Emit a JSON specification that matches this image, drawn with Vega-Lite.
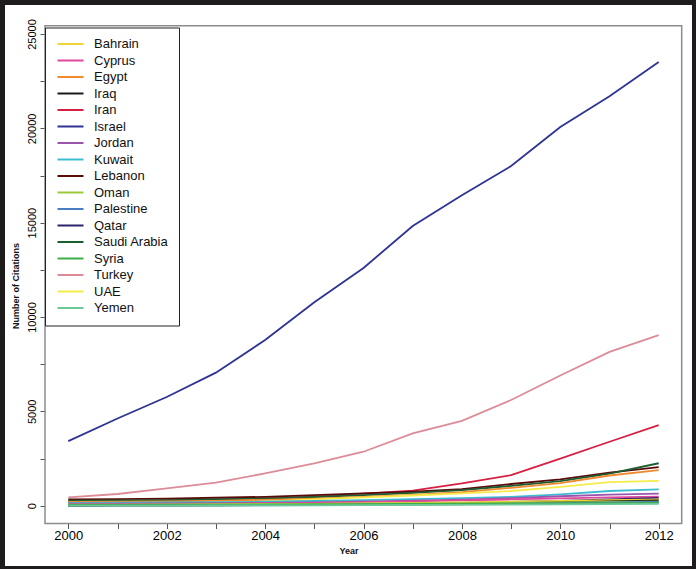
{
  "$schema": "https://vega.github.io/schema/vega-lite/v6.json",
  "width": 687,
  "height": 561,
  "autosize": {"type": "none"},
  "padding": {"left": 5, "top": 5, "right": 4, "bottom": 3},
  "background": "#1e1c1d",
  "config": {
    "view": {"fill": "white", "stroke": null},
    "font": "Liberation Sans"
  },
  "datasets": {
    "citations": [
      {"Country":"Israel","Year":2000,"Citations":3420},{"Country":"Israel","Year":2001,"Citations":4620},{"Country":"Israel","Year":2002,"Citations":5760},{"Country":"Israel","Year":2003,"Citations":7050},{"Country":"Israel","Year":2004,"Citations":8780},{"Country":"Israel","Year":2005,"Citations":10780},{"Country":"Israel","Year":2006,"Citations":12600},{"Country":"Israel","Year":2007,"Citations":14820},{"Country":"Israel","Year":2008,"Citations":16450},{"Country":"Israel","Year":2009,"Citations":18000},{"Country":"Israel","Year":2010,"Citations":20070},{"Country":"Israel","Year":2011,"Citations":21700},{"Country":"Israel","Year":2012,"Citations":23520},
      {"Country":"Turkey","Year":2000,"Citations":440},{"Country":"Turkey","Year":2001,"Citations":620},{"Country":"Turkey","Year":2002,"Citations":920},{"Country":"Turkey","Year":2003,"Citations":1220},{"Country":"Turkey","Year":2004,"Citations":1710},{"Country":"Turkey","Year":2005,"Citations":2240},{"Country":"Turkey","Year":2006,"Citations":2860},{"Country":"Turkey","Year":2007,"Citations":3830},{"Country":"Turkey","Year":2008,"Citations":4500},{"Country":"Turkey","Year":2009,"Citations":5600},{"Country":"Turkey","Year":2010,"Citations":6900},{"Country":"Turkey","Year":2011,"Citations":8150},{"Country":"Turkey","Year":2012,"Citations":9040},
      {"Country":"Iran","Year":2000,"Citations":220},{"Country":"Iran","Year":2001,"Citations":250},{"Country":"Iran","Year":2002,"Citations":290},{"Country":"Iran","Year":2003,"Citations":340},{"Country":"Iran","Year":2004,"Citations":400},{"Country":"Iran","Year":2005,"Citations":480},{"Country":"Iran","Year":2006,"Citations":640},{"Country":"Iran","Year":2007,"Citations":800},{"Country":"Iran","Year":2008,"Citations":1180},{"Country":"Iran","Year":2009,"Citations":1620},{"Country":"Iran","Year":2010,"Citations":2500},{"Country":"Iran","Year":2011,"Citations":3390},{"Country":"Iran","Year":2012,"Citations":4270},
      {"Country":"Lebanon","Year":2000,"Citations":340},{"Country":"Lebanon","Year":2001,"Citations":350},{"Country":"Lebanon","Year":2002,"Citations":370},{"Country":"Lebanon","Year":2003,"Citations":420},{"Country":"Lebanon","Year":2004,"Citations":470},{"Country":"Lebanon","Year":2005,"Citations":560},{"Country":"Lebanon","Year":2006,"Citations":650},{"Country":"Lebanon","Year":2007,"Citations":740},{"Country":"Lebanon","Year":2008,"Citations":880},{"Country":"Lebanon","Year":2009,"Citations":1150},{"Country":"Lebanon","Year":2010,"Citations":1400},{"Country":"Lebanon","Year":2011,"Citations":1750},{"Country":"Lebanon","Year":2012,"Citations":2040},
      {"Country":"Saudi Arabia","Year":2000,"Citations":270},{"Country":"Saudi Arabia","Year":2001,"Citations":280},{"Country":"Saudi Arabia","Year":2002,"Citations":300},{"Country":"Saudi Arabia","Year":2003,"Citations":330},{"Country":"Saudi Arabia","Year":2004,"Citations":380},{"Country":"Saudi Arabia","Year":2005,"Citations":460},{"Country":"Saudi Arabia","Year":2006,"Citations":560},{"Country":"Saudi Arabia","Year":2007,"Citations":680},{"Country":"Saudi Arabia","Year":2008,"Citations":820},{"Country":"Saudi Arabia","Year":2009,"Citations":1050},{"Country":"Saudi Arabia","Year":2010,"Citations":1300},{"Country":"Saudi Arabia","Year":2011,"Citations":1700},{"Country":"Saudi Arabia","Year":2012,"Citations":2250},
      {"Country":"Egypt","Year":2000,"Citations":200},{"Country":"Egypt","Year":2001,"Citations":210},{"Country":"Egypt","Year":2002,"Citations":230},{"Country":"Egypt","Year":2003,"Citations":260},{"Country":"Egypt","Year":2004,"Citations":310},{"Country":"Egypt","Year":2005,"Citations":380},{"Country":"Egypt","Year":2006,"Citations":470},{"Country":"Egypt","Year":2007,"Citations":570},{"Country":"Egypt","Year":2008,"Citations":720},{"Country":"Egypt","Year":2009,"Citations":950},{"Country":"Egypt","Year":2010,"Citations":1200},{"Country":"Egypt","Year":2011,"Citations":1600},{"Country":"Egypt","Year":2012,"Citations":1890},
      {"Country":"UAE","Year":2000,"Citations":90},{"Country":"UAE","Year":2001,"Citations":100},{"Country":"UAE","Year":2002,"Citations":120},{"Country":"UAE","Year":2003,"Citations":160},{"Country":"UAE","Year":2004,"Citations":220},{"Country":"UAE","Year":2005,"Citations":330},{"Country":"UAE","Year":2006,"Citations":440},{"Country":"UAE","Year":2007,"Citations":540},{"Country":"UAE","Year":2008,"Citations":650},{"Country":"UAE","Year":2009,"Citations":780},{"Country":"UAE","Year":2010,"Citations":1000},{"Country":"UAE","Year":2011,"Citations":1250},{"Country":"UAE","Year":2012,"Citations":1320},
      {"Country":"Kuwait","Year":2000,"Citations":150},{"Country":"Kuwait","Year":2001,"Citations":160},{"Country":"Kuwait","Year":2002,"Citations":170},{"Country":"Kuwait","Year":2003,"Citations":190},{"Country":"Kuwait","Year":2004,"Citations":210},{"Country":"Kuwait","Year":2005,"Citations":250},{"Country":"Kuwait","Year":2006,"Citations":300},{"Country":"Kuwait","Year":2007,"Citations":350},{"Country":"Kuwait","Year":2008,"Citations":400},{"Country":"Kuwait","Year":2009,"Citations":470},{"Country":"Kuwait","Year":2010,"Citations":600},{"Country":"Kuwait","Year":2011,"Citations":780},{"Country":"Kuwait","Year":2012,"Citations":860},
      {"Country":"Jordan","Year":2000,"Citations":110},{"Country":"Jordan","Year":2001,"Citations":115},{"Country":"Jordan","Year":2002,"Citations":120},{"Country":"Jordan","Year":2003,"Citations":135},{"Country":"Jordan","Year":2004,"Citations":150},{"Country":"Jordan","Year":2005,"Citations":180},{"Country":"Jordan","Year":2006,"Citations":220},{"Country":"Jordan","Year":2007,"Citations":270},{"Country":"Jordan","Year":2008,"Citations":320},{"Country":"Jordan","Year":2009,"Citations":400},{"Country":"Jordan","Year":2010,"Citations":500},{"Country":"Jordan","Year":2011,"Citations":590},{"Country":"Jordan","Year":2012,"Citations":640},
      {"Country":"Cyprus","Year":2000,"Citations":60},{"Country":"Cyprus","Year":2001,"Citations":70},{"Country":"Cyprus","Year":2002,"Citations":80},{"Country":"Cyprus","Year":2003,"Citations":100},{"Country":"Cyprus","Year":2004,"Citations":120},{"Country":"Cyprus","Year":2005,"Citations":150},{"Country":"Cyprus","Year":2006,"Citations":190},{"Country":"Cyprus","Year":2007,"Citations":230},{"Country":"Cyprus","Year":2008,"Citations":280},{"Country":"Cyprus","Year":2009,"Citations":330},{"Country":"Cyprus","Year":2010,"Citations":390},{"Country":"Cyprus","Year":2011,"Citations":440},{"Country":"Cyprus","Year":2012,"Citations":480},
      {"Country":"Qatar","Year":2000,"Citations":10},{"Country":"Qatar","Year":2001,"Citations":15},{"Country":"Qatar","Year":2002,"Citations":20},{"Country":"Qatar","Year":2003,"Citations":30},{"Country":"Qatar","Year":2004,"Citations":40},{"Country":"Qatar","Year":2005,"Citations":60},{"Country":"Qatar","Year":2006,"Citations":80},{"Country":"Qatar","Year":2007,"Citations":110},{"Country":"Qatar","Year":2008,"Citations":150},{"Country":"Qatar","Year":2009,"Citations":200},{"Country":"Qatar","Year":2010,"Citations":260},{"Country":"Qatar","Year":2011,"Citations":340},{"Country":"Qatar","Year":2012,"Citations":410},
      {"Country":"Bahrain","Year":2000,"Citations":40},{"Country":"Bahrain","Year":2001,"Citations":45},{"Country":"Bahrain","Year":2002,"Citations":55},{"Country":"Bahrain","Year":2003,"Citations":65},{"Country":"Bahrain","Year":2004,"Citations":80},{"Country":"Bahrain","Year":2005,"Citations":100},{"Country":"Bahrain","Year":2006,"Citations":120},{"Country":"Bahrain","Year":2007,"Citations":150},{"Country":"Bahrain","Year":2008,"Citations":180},{"Country":"Bahrain","Year":2009,"Citations":210},{"Country":"Bahrain","Year":2010,"Citations":250},{"Country":"Bahrain","Year":2011,"Citations":290},{"Country":"Bahrain","Year":2012,"Citations":330},
      {"Country":"Iraq","Year":2000,"Citations":10},{"Country":"Iraq","Year":2001,"Citations":12},{"Country":"Iraq","Year":2002,"Citations":15},{"Country":"Iraq","Year":2003,"Citations":20},{"Country":"Iraq","Year":2004,"Citations":30},{"Country":"Iraq","Year":2005,"Citations":45},{"Country":"Iraq","Year":2006,"Citations":60},{"Country":"Iraq","Year":2007,"Citations":80},{"Country":"Iraq","Year":2008,"Citations":110},{"Country":"Iraq","Year":2009,"Citations":140},{"Country":"Iraq","Year":2010,"Citations":180},{"Country":"Iraq","Year":2011,"Citations":230},{"Country":"Iraq","Year":2012,"Citations":280},
      {"Country":"Oman","Year":2000,"Citations":50},{"Country":"Oman","Year":2001,"Citations":55},{"Country":"Oman","Year":2002,"Citations":60},{"Country":"Oman","Year":2003,"Citations":70},{"Country":"Oman","Year":2004,"Citations":80},{"Country":"Oman","Year":2005,"Citations":95},{"Country":"Oman","Year":2006,"Citations":110},{"Country":"Oman","Year":2007,"Citations":120},{"Country":"Oman","Year":2008,"Citations":140},{"Country":"Oman","Year":2009,"Citations":160},{"Country":"Oman","Year":2010,"Citations":180},{"Country":"Oman","Year":2011,"Citations":200},{"Country":"Oman","Year":2012,"Citations":220},
      {"Country":"Palestine","Year":2000,"Citations":10},{"Country":"Palestine","Year":2001,"Citations":12},{"Country":"Palestine","Year":2002,"Citations":15},{"Country":"Palestine","Year":2003,"Citations":20},{"Country":"Palestine","Year":2004,"Citations":25},{"Country":"Palestine","Year":2005,"Citations":35},{"Country":"Palestine","Year":2006,"Citations":50},{"Country":"Palestine","Year":2007,"Citations":65},{"Country":"Palestine","Year":2008,"Citations":85},{"Country":"Palestine","Year":2009,"Citations":110},{"Country":"Palestine","Year":2010,"Citations":140},{"Country":"Palestine","Year":2011,"Citations":170},{"Country":"Palestine","Year":2012,"Citations":200},
      {"Country":"Syria","Year":2000,"Citations":40},{"Country":"Syria","Year":2001,"Citations":45},{"Country":"Syria","Year":2002,"Citations":50},{"Country":"Syria","Year":2003,"Citations":55},{"Country":"Syria","Year":2004,"Citations":60},{"Country":"Syria","Year":2005,"Citations":70},{"Country":"Syria","Year":2006,"Citations":80},{"Country":"Syria","Year":2007,"Citations":90},{"Country":"Syria","Year":2008,"Citations":100},{"Country":"Syria","Year":2009,"Citations":110},{"Country":"Syria","Year":2010,"Citations":125},{"Country":"Syria","Year":2011,"Citations":140},{"Country":"Syria","Year":2012,"Citations":150},
      {"Country":"Yemen","Year":2000,"Citations":5},{"Country":"Yemen","Year":2001,"Citations":6},{"Country":"Yemen","Year":2002,"Citations":8},{"Country":"Yemen","Year":2003,"Citations":10},{"Country":"Yemen","Year":2004,"Citations":15},{"Country":"Yemen","Year":2005,"Citations":20},{"Country":"Yemen","Year":2006,"Citations":28},{"Country":"Yemen","Year":2007,"Citations":36},{"Country":"Yemen","Year":2008,"Citations":45},{"Country":"Yemen","Year":2009,"Citations":55},{"Country":"Yemen","Year":2010,"Citations":70},{"Country":"Yemen","Year":2011,"Citations":85},{"Country":"Yemen","Year":2012,"Citations":100}
    ]
  },
  "layer": [
    {
      "data": {"values": [{}]},
      "mark": {"type": "rect", "fill": null, "stroke": "#8c8c8c", "strokeWidth": 1.5},
      "encoding": {
        "x": {"datum": 1999.5264, "type": "quantitative", "scale": {"domain": [1998.7134, 2012.6768], "nice": false, "zero": false}},
        "x2": {"datum": 2012.4675},
        "y": {"datum": -943, "type": "quantitative", "scale": {"domain": [-3196, 26537], "nice": false, "zero": false}},
        "y2": {"datum": 25440}
      }
    },
    {
      "data": {"name": "citations"},
      "mark": {"type": "line", "strokeWidth": 1.8},
      "encoding": {
        "x": {
          "field": "Year", "type": "quantitative",
          "axis": {
            "title": "Year", "offset": -42.5, "domain": false,
            "values": [2000,2001,2002,2003,2004,2005,2006,2007,2008,2009,2010,2011,2012],
            "format": "d",
            "labelExpr": "datum.value % 2 == 0 ? datum.label : ''",
            "grid": false, "tickSize": 5, "tickColor": "#555", "tickWidth": 1,
            "labelFontSize": 13, "labelColor": "#000", "labelPadding": 1, "labelFont": "Liberation Sans",
            "titleFontSize": 9, "titleFontWeight": "bold", "titleColor": "#111", "titlePadding": 4, "titleFont": "Liberation Sans"
          }
        },
        "y": {
          "field": "Citations", "type": "quantitative",
          "axis": {
            "title": "Number of Citations", "offset": -40, "domain": false,
            "values": [0,2500,5000,7500,10000,12500,15000,17500,20000,22500,25000],
            "labelExpr": "datum.value % 5000 == 0 ? format(datum.value, 'd') : ''",
            "grid": false, "tickSize": 5, "tickColor": "#555", "tickWidth": 1,
            "labelAngle": -90, "labelAlign": "center", "labelBaseline": "bottom",
            "labelFontSize": 11, "labelColor": "#000", "labelPadding": 3, "labelFont": "Liberation Sans",
            "titleFontSize": 9, "titleFontWeight": "bold", "titleColor": "#111", "titlePadding": 6, "titleFont": "Liberation Sans"
          }
        },
        "color": {
          "field": "Country", "type": "nominal",
          "scale": {
            "domain": ["Bahrain","Cyprus","Egypt","Iraq","Iran","Israel","Jordan","Kuwait","Lebanon","Oman","Palestine","Qatar","Saudi Arabia","Syria","Turkey","UAE","Yemen"],
            "range": ["#F2D335","#E0479E","#F08A2E","#1A1A1A","#D62042","#2F3394","#9A55AE","#3CBCD0","#5A0A0A","#9CC93A","#4A7EC0","#2A236A","#1B5E32","#3DAE4A","#DC8C98","#F5EC4A","#6CC89A"]
          },
          "legend": {
            "title": null, "orient": "none", "legendX": 40, "legendY": 22.5,
            "symbolType": "M-2.6,0H2.6", "symbolSize": 100, "symbolStrokeWidth": 2,
            "labelFontSize": 13, "labelColor": "#111", "labelFont": "Liberation Sans",
            "labelOffset": 17, "rowPadding": 2.5, "padding": 10, "symbolOffset": 9,
            "strokeColor": "#222", "fillColor": "white"
          }
        }
      }
    }
  ]
}
